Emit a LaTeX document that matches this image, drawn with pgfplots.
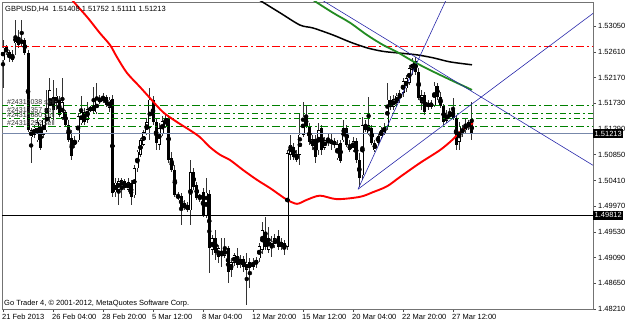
\documentclass[border=0pt]{standalone}
\usepackage{pgfplots}
\usepackage{pgfplotstable}
\pgfplotsset{compat=1.18}
\usepackage{fontspec}
\setmainfont{Liberation Sans}

\definecolor{mtgreen}{RGB}{0,128,0}
\definecolor{mtblue}{RGB}{40,40,170}
\definecolor{bidline}{RGB}{119,136,170}
\definecolor{magreen}{RGB}{34,139,34}

\pgfplotstableread{
x o h l c
0 1.5247 1.5281 1.5199 1.5268
1 1.5259 1.5273 1.5256 1.5269
2 1.5261 1.5264 1.5244 1.5251
3 1.5256 1.5264 1.5244 1.5247
4 1.5276 1.5316 1.5256 1.5288
5 1.5285 1.5299 1.5268 1.5273
6 1.5276 1.5316 1.5271 1.5281
7 1.5281 1.5285 1.5256 1.5259
8 1.5259 1.5264 1.5124 1.5127
9 1.5115 1.5131 1.5071 1.5127
10 1.5119 1.5136 1.5114 1.5131
11 1.5110 1.5148 1.5107 1.5141
12 1.5133 1.5138 1.5093 1.5097
13 1.5119 1.5148 1.5114 1.5145
14 1.5127 1.5196 1.5124 1.5165
15 1.5148 1.5216 1.5141 1.5196
16 1.5184 1.5213 1.5145 1.5162
17 1.5174 1.5199 1.5162 1.5186
18 1.5179 1.5186 1.5150 1.5153
19 1.5148 1.5216 1.5145 1.5175
20 1.5158 1.5162 1.5133 1.5136
21 1.5136 1.5145 1.5107 1.5110
22 1.5114 1.5127 1.5076 1.5083
23 1.5102 1.5117 1.5097 1.5110
24 1.5110 1.5156 1.5107 1.5151
25 1.5139 1.5186 1.5136 1.5158
26 1.5158 1.5165 1.5136 1.5141
27 1.5145 1.5175 1.5139 1.5163
28 1.5162 1.5168 1.5158 1.5165
29 1.5160 1.5201 1.5156 1.5170
30 1.5158 1.5208 1.5155 1.5179
31 1.5175 1.5187 1.5172 1.5182
32 1.5177 1.5191 1.5174 1.5184
33 1.5184 1.5187 1.5167 1.5170
34 1.5165 1.5184 1.5158 1.5179
35 1.5180 1.5187 1.5013 1.5020
36 1.5021 1.5045 1.5013 1.5037
37 1.5025 1.5045 1.4999 1.5040
38 1.5030 1.5045 1.5011 1.5042
39 1.5040 1.5043 1.5025 1.5028
40 1.5025 1.5045 1.5021 1.5038
41 1.5037 1.5042 1.4999 1.5013
42 1.5016 1.5067 1.5011 1.5062
43 1.5062 1.5093 1.5055 1.5090
44 1.5085 1.5114 1.5081 1.5110
45 1.5102 1.5127 1.5100 1.5124
46 1.5122 1.5148 1.5119 1.5141
47 1.5131 1.5199 1.5110 1.5179
48 1.5179 1.5186 1.5136 1.5141
49 1.5141 1.5148 1.5093 1.5105
50 1.5102 1.5139 1.5093 1.5131
51 1.5122 1.5151 1.5117 1.5143
52 1.5134 1.5155 1.5131 1.5148
53 1.5148 1.5153 1.5071 1.5076
54 1.5079 1.5090 1.5055 1.5059
55 1.5059 1.5067 1.5013 1.5016
56 1.5016 1.5021 1.5008 1.5011
57 1.5015 1.5020 1.4965 1.4994
58 1.5002 1.5008 1.4990 1.4994
59 1.4990 1.5004 1.4987 1.4999
60 1.4990 1.5076 1.4965 1.5055
61 1.5055 1.5062 1.5025 1.5030
62 1.5033 1.5038 1.5008 1.5011
63 1.5011 1.5018 1.5004 1.5015
64 1.5021 1.5028 1.4978 1.4982
65 1.4980 1.5045 1.4977 1.5020
66 1.5018 1.5025 1.4883 1.4925
67 1.4922 1.4948 1.4913 1.4942
68 1.4942 1.4956 1.4905 1.4917
69 1.4910 1.4930 1.4900 1.4925
70 1.4918 1.4942 1.4893 1.4912
71 1.4912 1.4942 1.4908 1.4924
72 1.4925 1.4929 1.4865 1.4884
73 1.4888 1.4908 1.4876 1.4901
74 1.4900 1.4917 1.4894 1.4913
75 1.4912 1.4925 1.4891 1.4896
76 1.4896 1.4913 1.4891 1.4906
77 1.4906 1.4912 1.4884 1.4893
78 1.4888 1.4917 1.4828 1.4900
79 1.4901 1.4908 1.4857 1.4891
80 1.4893 1.4908 1.4888 1.4901
81 1.4898 1.4910 1.4891 1.4905
82 1.4908 1.4934 1.4901 1.4929
83 1.4922 1.4970 1.4915 1.4956
84 1.4953 1.4978 1.4922 1.4927
85 1.4922 1.4961 1.4917 1.4942
86 1.4925 1.4946 1.4910 1.4936
87 1.4930 1.4949 1.4925 1.4942
88 1.4946 1.4956 1.4922 1.4927
89 1.4936 1.4942 1.4922 1.4927
90 1.4925 1.4939 1.4913 1.4934
91 1.4927 1.5093 1.4922 1.5088
92 1.5085 1.5119 1.5076 1.5102
93 1.5098 1.5105 1.5076 1.5081
94 1.5076 1.5093 1.5072 1.5086
95 1.5085 1.5156 1.5067 1.5119
96 1.5119 1.5175 1.5115 1.5150
97 1.5150 1.5170 1.5131 1.5134
98 1.5133 1.5139 1.5102 1.5107
99 1.5100 1.5119 1.5093 1.5112
100 1.5112 1.5119 1.5071 1.5081
101 1.5093 1.5139 1.5085 1.5127
102 1.5131 1.5136 1.5085 1.5093
103 1.5097 1.5115 1.5093 1.5110
104 1.5112 1.5122 1.5100 1.5105
105 1.5105 1.5122 1.5093 1.5110
106 1.5108 1.5114 1.5097 1.5102
107 1.5079 1.5110 1.5076 1.5103
108 1.5105 1.5110 1.5071 1.5074
109 1.5110 1.5145 1.5107 1.5131
110 1.5131 1.5136 1.5098 1.5102
111 1.5102 1.5110 1.5090 1.5093
112 1.5093 1.5115 1.5090 1.5108
113 1.5108 1.5114 1.5071 1.5076
114 1.5076 1.5088 1.5030 1.5045
115 1.5050 1.5150 1.5042 1.5136
116 1.5136 1.5145 1.5124 1.5127
117 1.5122 1.5184 1.5119 1.5136
118 1.5131 1.5136 1.5102 1.5105
119 1.5093 1.5110 1.5090 1.5105
120 1.5105 1.5122 1.5102 1.5117
121 1.5115 1.5133 1.5112 1.5127
122 1.5122 1.5139 1.5119 1.5133
123 1.5133 1.5208 1.5127 1.5179
124 1.5179 1.5186 1.5162 1.5167
125 1.5167 1.5187 1.5162 1.5180
126 1.5174 1.5191 1.5167 1.5186
127 1.5182 1.5196 1.5174 1.5191
128 1.5191 1.5216 1.5184 1.5211
129 1.5199 1.5221 1.5192 1.5216
130 1.5208 1.5239 1.5204 1.5233
131 1.5230 1.5251 1.5221 1.5244
132 1.5246 1.5252 1.5221 1.5227
133 1.5227 1.5234 1.5179 1.5182
134 1.5174 1.5196 1.5162 1.5187
135 1.5187 1.5192 1.5153 1.5158
136 1.5167 1.5179 1.5162 1.5174
137 1.5174 1.5179 1.5163 1.5167
138 1.5170 1.5210 1.5167 1.5203
139 1.5203 1.5208 1.5179 1.5184
140 1.5184 1.5192 1.5165 1.5168
141 1.5168 1.5172 1.5136 1.5141
142 1.5143 1.5162 1.5139 1.5155
143 1.5155 1.5165 1.5148 1.5151
144 1.5162 1.5182 1.5145 1.5148
145 1.5148 1.5153 1.5093 1.5102
146 1.5107 1.5141 1.5093 1.5133
147 1.5122 1.5136 1.5115 1.5131
148 1.5127 1.5148 1.5122 1.5138
149 1.5133 1.5145 1.5127 1.5141
150 1.51408 1.51752 1.51111 1.51213
}\candles

\begin{document}
\begin{tikzpicture}[x=1pt,y=1pt]
\useasboundingbox (-2,-17) rectangle (623,309);
\begin{axis}[at={(0,0)}, anchor=south west, scale only axis,
  width=591pt, height=307pt,
  xmin=-0.32, xmax=188.8, ymin=1.48210, ymax=1.53465,
  axis line style={black!55, line width=0.8pt},
  xtick={0,16,...,144},
  xticklabels={21 Feb 2013,26 Feb 04:00,28 Feb 20:00,5 Mar 12:00,8 Mar 04:00,12 Mar 20:00,15 Mar 12:00,20 Mar 04:00,22 Mar 20:00,27 Mar 12:00},
  ytick={1.48210,1.48650,1.49090,1.49530,1.49970,1.50410,1.50850,1.51290,1.51730,1.52170,1.52610,1.53050},
  yticklabels={1.48210,1.48650,1.49090,1.49530,1.49970,1.50410,1.50850,1.51290,1.51730,1.52170,1.52610,1.53050},
  xtick pos=bottom, ytick pos=right, yticklabel pos=right,
  tick align=outside, major tick length=3pt,
  tick style={black!70, line width=0.7pt},
  ticklabel style={font=\fontsize{7.5}{9}\selectfont},
  xticklabel style={anchor=north west, inner sep=0pt, xshift=-1pt, yshift=-2pt},
  yticklabel style={anchor=west, inner sep=0pt, xshift=2pt},
  clip=true,
]
% wicks
\addplot[only marks, mark=none, error bars/.cd, y dir=both, y explicit, error mark=none,
  error bar style={line width=0.9pt, black!80}]
  table[x=x, y expr={(\thisrow{h}+\thisrow{l})/2}, y error expr={(\thisrow{h}-\thisrow{l})/2}] \candles;
% bodies (outline for bull, fill for bear)
\addplot[only marks, mark=none, error bars/.cd, y dir=both, y explicit, error mark=none,
  error bar style={line width=3pt, black}]
  table[x=x, y expr={(\thisrow{o}+\thisrow{c})/2}, y error expr={max(abs(\thisrow{c}-\thisrow{o})/2,0.00009)}] \candles;
% bull interiors (white)
\addplot[only marks, mark=none, error bars/.cd, y dir=both, y explicit, error mark=none,
  error bar style={line width=1.9pt, white}]
  table[x=x, y expr={(\thisrow{o}+\thisrow{c})/2}, y error expr={max((\thisrow{c}-\thisrow{o})/2-0.0001,0)}] \candles;

% horizontal levels
\addplot[red, line width=0.8pt, dash pattern=on 8pt off 3pt on 2pt off 3pt] coordinates {(-1,1.5271) (190,1.5271)};
\addplot[mtgreen, line width=0.8pt, dash pattern=on 8pt off 3pt on 2pt off 3pt] coordinates {(-1,1.51689) (190,1.51689)};
\addplot[mtgreen, line width=0.8pt, dash pattern=on 6pt off 3pt on 2pt off 3pt] coordinates {(-1,1.51559) (190,1.51559)};
\addplot[mtgreen, line width=0.8pt, dash pattern=on 6pt off 3pt on 2pt off 3pt] coordinates {(-1,1.51473) (190,1.51473)};
\addplot[mtgreen, line width=0.8pt, dash pattern=on 8pt off 3pt on 2pt off 3pt] coordinates {(-1,1.51341) (190,1.51341)};
\addplot[bidline, line width=0.8pt] coordinates {(-1,1.51213) (190,1.51213)};
\addplot[black, line width=0.8pt] coordinates {(-1,1.49812) (190,1.49812)};

% moving averages
\addplot[red, line width=1.9pt, smooth, tension=0.5] coordinates {
(20.8,1.5360) (22.08,1.5350) (26.88,1.5321) (31.04,1.5293) (34.24,1.5273) (36.48,1.5252)
(39.68,1.5225) (43.84,1.5201) (47.04,1.5182) (51.2,1.5158) (55.68,1.5141) (59.84,1.5127)
(63.04,1.5115) (66.24,1.5098) (69.44,1.5085) (72.64,1.5076) (76.8,1.5059) (81.28,1.5042)
(85.44,1.5028) (88.64,1.5016) (90.88,1.5008) (94.08,1.5001) (97.28,1.5008) (101.44,1.5015)
(106.88,1.5009) (114.24,1.5013) (118.4,1.5021) (122.88,1.5031) (127.04,1.5047) (133.44,1.5071)
(139.84,1.5093) (143.68,1.5110) (146.24,1.5124) (148.48,1.5133) (150.4,1.5139)};
\addplot[black, line width=1.5pt, smooth, tension=0.5] coordinates {
(80.5,1.5355) (82.88,1.5347) (88.64,1.5328) (95.04,1.5307) (99.2,1.5302) (105.6,1.5290) (111.04,1.5278)
(116.48,1.5268) (121.6,1.5262) (127.04,1.5259) (132.48,1.5256) (137.6,1.5251) (143.04,1.5244)
(150.08,1.5239)};
\addplot[magreen, line width=1.8pt, smooth, tension=0.5] coordinates {
(97.5,1.5358) (99.2,1.5350) (105.6,1.5328) (111.04,1.5311) (116.48,1.5290) (121.6,1.5273) (126.08,1.5261)
(131.2,1.5245) (136.64,1.5230) (142.08,1.5216) (150.08,1.5196)};

% trend lines
\addplot[mtblue, line width=0.6pt] coordinates {(113.6,1.5026) (143.26,1.5367)};
\addplot[mtblue, line width=0.6pt] coordinates {(113.6,1.5026) (188.8,1.5327)};
\addplot[mtblue, line width=0.6pt] coordinates {(96.8,1.5367) (188.8,1.5067)};

\coordinate (b1) at (axis cs:188.8,1.51213);
\coordinate (b2) at (axis cs:188.8,1.49812);
\end{axis}

\node[anchor=west, fill=black, text=white, inner xsep=1.5pt, inner ysep=0pt, minimum height=9pt,
  font=\fontsize{7.5}{9}\selectfont] at (b1) {1.51213};
\node[anchor=west, fill=black, text=white, inner xsep=1.5pt, inner ysep=0pt, minimum height=9pt,
  font=\fontsize{7.5}{9}\selectfont] at (b2) {1.49812};

\node[anchor=west, inner sep=0pt, font=\fontsize{7.5}{9}\selectfont] at (3,300)
  {GBPUSD,H4\ \ 1.51408 1.51752 1.51111 1.51213};
\node[anchor=west, inner sep=0pt, font=\fontsize{7.5}{9}\selectfont] at (2,5)
  {Go Trader 4, © 2001-2012, MetaQuotes Software Corp.};

\begin{scope}[every node/.style={anchor=south west, inner sep=0pt, text=black!80, font=\fontsize{7}{8}\selectfont}]
\node at (5,204) {\#24312038 sell};
\node at (5,196.4) {\#24313357 sell};
\node at (5,191.4) {\#24315680 sell};
\node at (5,183.7) {\#24318292 sell};
\end{scope}
\end{tikzpicture}
\end{document}
